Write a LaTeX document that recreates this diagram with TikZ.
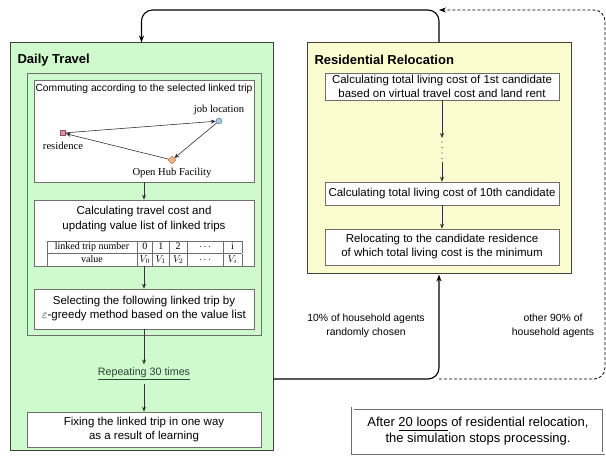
\documentclass[tikz,border=0pt]{standalone}
\usepackage{fontspec}
\setmainfont{Liberation Sans}
\newfontfamily\mincho{Liberation Serif}
\usepackage{array,colortbl}
\usetikzlibrary{arrows.meta,shapes.geometric}
\definecolor{dtgreen}{RGB}{206,250,206}
\definecolor{rryellow}{RGB}{250,252,208}
\definecolor{boxgray}{RGB}{110,110,110}
\definecolor{respink}{RGB}{232,140,170}
\definecolor{jobblue}{RGB}{160,205,235}
\definecolor{huborange}{RGB}{246,180,125}
\definecolor{repgreen}{RGB}{40,70,50}
\tikzset{
  panel/.style={draw=black!75, line width=1pt, inner sep=0pt},
  title/.style={anchor=west, font=\fontsize{13}{15}\selectfont\bfseries},
  stepbox/.style={draw=boxgray, fill=white, line width=0.6pt, inner sep=0pt,
    align=center, font=\fontsize{11.5}{14}\selectfont},
  place/.style={font=\mincho\fontsize{10.6}{12}\selectfont},
  lbl/.style={align=center, font=\fontsize{10.4}{14}\selectfont},
  flow/.style={-{Stealth[length=5pt,width=4pt]}, black!80, line width=0.6pt},
  skip/.style={black!80, line width=1.3pt, line cap=round, dash pattern=on 0pt off 5.5pt},
  loop/.style={-{Stealth[length=7pt,width=5pt]}, line width=1.1pt, rounded corners=11pt},
}
\begin{document}
\begin{tikzpicture}[x=1pt,y=-1pt]
  \useasboundingbox (0,0) rectangle (606,457);
  % daily travel
  \node (dt) [panel, fill=dtgreen, minimum width=263pt, minimum height=408pt] at (141.5,247) {};
  \node (dttitle) [title] at (14,60) {Daily Travel};
  \node (inner) [draw=boxgray, line width=0.6pt, minimum width=234pt, minimum height=262pt] at (144,204) {};
  \node (commute) [stepbox, minimum width=220pt, minimum height=102pt] at (144,131) {};
  \node (commutetxt) [font=\fontsize{10.3}{12}\selectfont] at (144,89) {Commuting according to the selected linked trip};
  \node (res) [draw=respink!60!black, fill=respink, minimum size=5pt, inner sep=0pt,
    label={[place, label distance=3pt]below:residence}] at (63,133) {};
  \node (job) [circle, draw=jobblue!50!black, fill=jobblue, minimum size=6pt, inner sep=0pt,
    label={[place]above:job location}] at (219,121) {};
  \node (hub) [diamond, draw=huborange!60!black, fill=huborange, minimum size=8pt, inner sep=0pt,
    label={[place]below:Open Hub Facility}] at (172,160) {};
  \draw[flow] (res) -- (job);
  \draw[flow] (job) -- (hub);
  \draw[flow] (hub) -- (res);
  \node (update) [stepbox, minimum width=220pt, minimum height=66pt] at (144,233) {};
  \node (updatetxt) [align=center, font=\fontsize{11.5}{15}\selectfont] at (144,219.5)
    {Calculating travel cost and\\updating value list of linked trips};
  \node (vals) [inner sep=0pt, font=\mincho\fontsize{10}{11}\selectfont] at (144.5,253.5) {%
    \setlength{\tabcolsep}{3pt}\renewcommand{\arraystretch}{1.1}\arrayrulecolor{boxgray}%
    \begin{tabular}{|w{c}{84pt}|w{c}{9pt}|w{c}{10pt}|w{c}{12pt}|w{c}{29pt}|w{c}{13pt}|}
      \hline
      linked trip number & 0 & 1 & 2 & $\cdots$ & i \\ \hline
      value & $V_0$ & $V_1$ & $V_2$ & $\cdots$ & $V_i$ \\ \hline
    \end{tabular}};
  \node (select) [stepbox, minimum width=220pt, minimum height=40pt] at (144,309)
    {Selecting the following linked trip by\\$\varepsilon$-greedy method based on the value list};
  \node (rep) [font=\fontsize{10.7}{12}\selectfont, text=repgreen] at (144,374) {\underline{Repeating 30 times}};
  \node (fix) [stepbox, minimum width=234pt, minimum height=35pt] at (144,429.5)
    {Fixing the linked trip in one way\\as a result of learning};
  \draw[flow] (commute) -- (update);
  \draw[flow] (update) -- (select);
  \draw[flow] (select) -- (rep);
  \draw[flow] (rep) -- (fix);
  % residential relocation
  \node (rr) [panel, fill=rryellow, minimum width=264pt, minimum height=231pt] at (439,158.5) {};
  \node (rrtitle) [title] at (311,60) {Residential Relocation};
  \node (cand1) [stepbox, minimum width=234pt, minimum height=27pt] at (442,86.5)
    {Calculating total living cost of 1st candidate\\based on virtual travel cost and land rent};
  \node (cand10) [stepbox, minimum width=234pt, minimum height=23pt] at (442,193.5)
    {Calculating total living cost of 10th candidate};
  \node (move) [stepbox, minimum width=234pt, minimum height=36pt] at (442,247)
    {Relocating to the candidate residence\\of which total living cost is the minimum};
  \coordinate (gaptop) at (442,138);
  \coordinate (gapbot) at (442,162);
  \draw[flow] (cand1) -- (gaptop);
  \draw[skip] (gaptop) ++(0,4) -- (gapbot);
  \draw[flow] (gapbot) -- (cand10);
  \draw[flow] (cand10) -- (move);
  % loops
  \coordinate (top) at (0,10);
  \coordinate (ret) at (0,379);
  \coordinate (farbot) at (605,379);
  \coordinate (fartop) at (605,10);
  \draw[loop] (rr.north) |- (dt.north |- top) -- (dt.north);
  \draw[loop] (dt.east |- ret) -| (rr.south);
  \draw[loop, line width=0.8pt, dash pattern=on 3pt off 2pt] (rr.south |- ret) -- (farbot) -- (fartop) -- (rr.north |- top);
  \node (chosen) [lbl] at (366,326) {10\% of household agents\\randomly chosen};
  \node (others) [lbl] at (553,326) {other 90\% of\\household agents};
  \node (stop) [draw=boxgray, double, double distance=2pt, line width=0.6pt, minimum width=251pt,
    minimum height=45pt, align=center, font=\fontsize{13}{16}\selectfont] at (478,431)
    {After \underline{20 loops} of residential relocation,\\the simulation stops processing.};
\end{tikzpicture}
\end{document}
